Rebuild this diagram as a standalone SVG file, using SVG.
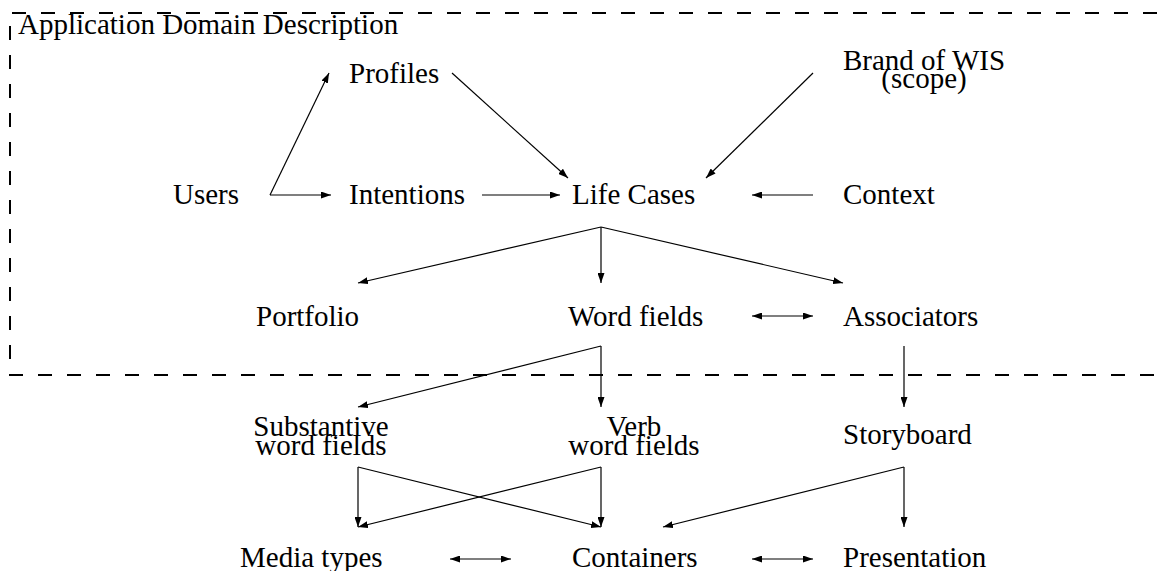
<svg xmlns="http://www.w3.org/2000/svg" width="1157" height="571" viewBox="0 0 1157 571">
<style>
text{font-family:"Liberation Serif","Times New Roman",serif;font-size:29px;fill:#000}
.c{text-anchor:middle}
.e{stroke:#000;stroke-width:1.2;fill:none;marker-end:url(#ah)}
.b{marker-start:url(#ah)}
.frame{stroke:#000;stroke-width:1.2;fill:none;stroke-dasharray:14 15;shape-rendering:crispEdges}
</style>
<defs>
<marker id="ah" viewBox="0 0 10 7" refX="10" refY="3.5" markerWidth="10" markerHeight="7" markerUnits="userSpaceOnUse" orient="auto-start-reverse">
<path d="M0,0 L10,3.5 L0,7 z" fill="#000"/>
</marker>
</defs>
<rect width="1157" height="571" fill="#fff"/>
<g id="domain">
<path class="frame" d="M1157,13 H10 V375 H1157"/>
<text x="18" y="34">Application Domain Description</text>
</g>
<g id="profiles"><text x="349" y="83">Profiles</text></g>
<g id="brand"><text class="c" x="924" y="70">Brand of WIS</text><text class="c" x="924" y="88">(scope)</text></g>
<g id="users"><text x="173" y="204">Users</text></g>
<g id="intentions"><text x="349" y="204">Intentions</text></g>
<g id="lifecases"><text x="572" y="204">Life Cases</text></g>
<g id="context"><text x="843" y="204">Context</text></g>
<g id="portfolio"><text x="256" y="326">Portfolio</text></g>
<g id="wordfields"><text x="568" y="326">Word fields</text></g>
<g id="associators"><text x="843" y="326">Associators</text></g>
<g id="substantive"><text class="c" x="321" y="436">Substantive</text><text class="c" x="321" y="455">word fields</text></g>
<g id="verb"><text class="c" x="634" y="436">Verb</text><text class="c" x="634" y="455">word fields</text></g>
<g id="storyboard"><text x="843" y="444">Storyboard</text></g>
<g id="mediatypes"><text x="240" y="567">Media types</text></g>
<g id="containers"><text x="572" y="567">Containers</text></g>
<g id="presentation"><text x="843" y="567">Presentation</text></g>
<g id="connectors">
<path class="e" d="M270,195 L329,73"/>
<path class="e" d="M270,195 L331,195"/>
<path class="e" d="M452,73 L568,178"/>
<path class="e" d="M482,195 L560,195"/>
<path class="e" d="M813,73 L706,178"/>
<path class="e" d="M813,195 L752,195"/>
<path class="e" d="M601,227 L358,283"/>
<path class="e" d="M601,227 L601,283"/>
<path class="e" d="M601,227 L843,283"/>
<path class="e b" d="M752,316 L813,316"/>
<path class="e" d="M601,346 L358,407"/>
<path class="e" d="M601,346 L601,407"/>
<path class="e" d="M904,346 L904,407"/>
<path class="e" d="M358,467 L358,527"/>
<path class="e" d="M358,467 L601,527"/>
<path class="e" d="M601,467 L358,527"/>
<path class="e" d="M601,467 L601,527"/>
<path class="e" d="M904,467 L663,527"/>
<path class="e" d="M904,467 L904,527"/>
<path class="e b" d="M450,559 L511,559"/>
<path class="e b" d="M752,559 L813,559"/>
</g>
</svg>
